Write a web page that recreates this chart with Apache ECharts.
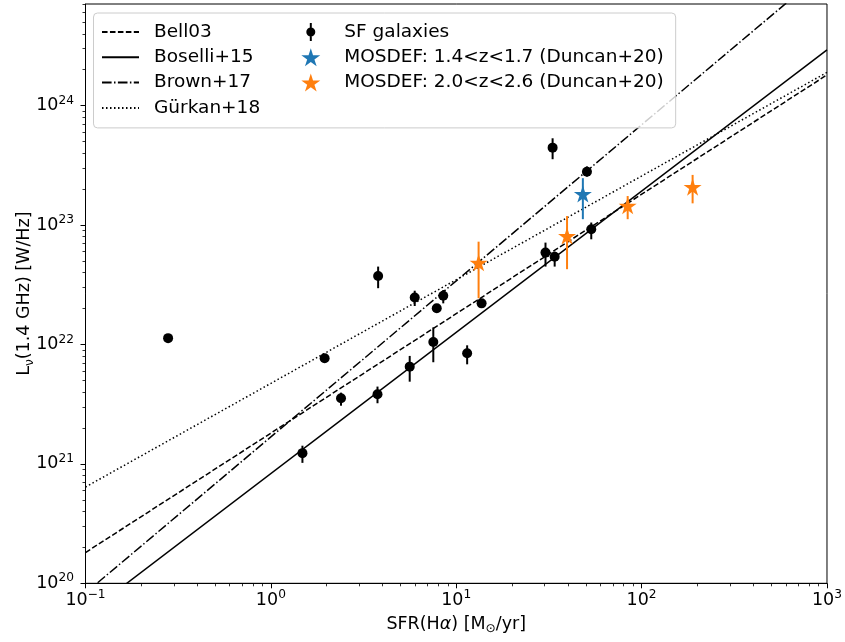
<!DOCTYPE html>
<html><head><meta charset="utf-8">
<script src="https://cdn.jsdelivr.net/npm/echarts@6/dist/echarts.min.js"></script>
<style>html,body{margin:0;padding:0;background:#fff}#c{width:845px;height:642px}</style>
</head><body><div id="c"></div>
<script>
// ---- relation lines (endpoint values read at SFR = 0.1 and 1000) ----
const lineSfr   = [0.1, 1000];
const bell03    = [1.81e20, 1.81e24];
const boselli15 = [5.45e19, 2.93e24];
const brown17   = [8.3e19, 1.40e25];
const gurkan18  = [6.4e20, 1.9e24];

// ---- SF galaxies ----
const sfX  = [0.279, 1.48, 1.95, 2.39, 3.76, 3.79, 5.61, 5.97, 7.52, 7.85, 8.51, 11.45, 13.7, 30.3, 33.96, 33.1, 50.7, 53.5];
const sfY  = [1.13e22, 1.23e21, 7.66e21, 3.54e21, 3.83e21, 3.75e22, 6.52e21, 2.47e22, 1.05e22, 2.01e22, 2.56e22, 8.43e21, 2.21e22, 5.88e22, 5.43e22, 4.45e23, 2.80e23, 9.23e22];
const sfLo = [1.05e22, 1.02e21, 7.2e21, 3.07e21, 3.22e21, 2.96e22, 4.88e21, 2.10e22, 7.1e21, 1.9e22, 2.21e22, 6.82e21, 2.1e22, 4.49e22, 4.49e22, 3.56e23, 2.55e23, 7.6e22];
const sfHi = [1.21e22, 1.42e21, 8.1e21, 3.95e21, 4.44e21, 4.49e22, 8.02e21, 2.82e22, 1.39e22, 2.12e22, 2.86e22, 9.84e21, 2.32e22, 7.13e22, 5.99e22, 5.33e23, 3.1e23, 1.05e23];

// ---- MOSDEF 1.4<z<1.7 ----
const m1X  = [48.2];
const m1Y  = [1.82e23];
const m1Lo = [1.12e23];
const m1Hi = [2.47e23];

// ---- MOSDEF 2.0<z<2.6 ----
const m2X  = [13.2, 39.6, 84.1, 188.4];
const m2Y  = [4.84e22, 8.11e22, 1.45e23, 2.08e23];
const m2Lo = [2.44e22, 4.27e22, 1.12e23, 1.52e23];
const m2Hi = [7.26e22, 1.19e23, 1.75e23, 2.63e23];

// ---- axes ----
const xMin = 0.1, xMax = 1000;
const yMin = 1e20, yMax = 7.1e24;
const xMajorTicks = [0.1, 1, 10, 100, 1000];
const yMajorTicks = [1e20, 1e21, 1e22, 1e23, 1e24];
const xMinorTicks = [];
for (let e = -1; e < 3; e++) for (let k = 2; k <= 9; k++) xMinorTicks.push(k * Math.pow(10, e));
const yMinorTicks = [];
for (let e = 20; e <= 24; e++) for (let k = 2; k <= 9; k++) { const v = k * Math.pow(10, e); if (v <= yMax) yMinorTicks.push(v); }

const names = {
  bell: 'Bell03', bos: 'Boselli+15', brown: 'Brown+17', gur: 'Gürkan+18',
  sf: 'SF galaxies', m1: 'MOSDEF: 1.4<z<1.7 (Duncan+20)', m2: 'MOSDEF: 2.0<z<2.6 (Duncan+20)'
};
const lineNames = [names.bell, names.bos, names.brown, names.gur];

const FONT = 'DejaVu Sans';
const FS = 17.5, FSUP = 12.2, FLEG = 18.5;
const BLUE = '#1f77b4', ORANGE = '#ff7f0e';
const STAR = 'path://M0,-10 L2.245,-3.09 L9.511,-3.09 L3.633,1.18 L5.878,8.09 L0,3.82 L-5.878,8.09 L-3.633,1.18 L-9.511,-3.09 L-2.245,-3.09 Z';
const SFICON = 'path://M-1.1,-10 L1.1,-10 L1.1,10 L-1.1,10 Z M0,-5 A5,5 0 1,1 0,5 A5,5 0 1,1 0,-5 Z';

function pairs(xs, ys) { return xs.map((x, i) => [x, ys[i]]); }
function relLine(name, ys, dash) {
  return { type: 'line', name, data: pairs(lineSfr, ys), symbol: 'none', z: 2, silent: true,
    lineStyle: { color: '#000', width: 1.5, type: dash, cap: 'butt' }, itemStyle: { color: 'rgba(0,0,0,0)' } };
}
function errSeries(xs, los, his, color) {
  return { type: 'custom', silent: true, z: 3, data: xs.map((x, i) => [x, los[i], his[i]]), encode: { x: 0, y: [1, 2] },
    renderItem: (params, api) => {
      const a = api.coord([api.value(0), api.value(1)]);
      const b = api.coord([api.value(0), api.value(2)]);
      return { type: 'line', shape: { x1: a[0], y1: a[1], x2: b[0], y2: b[1] }, style: { stroke: color, lineWidth: 2 } };
    } };
}
function expLabel(v) {
  const e = Math.round(Math.log10(v));
  return '{b|10}{s|' + (e < 0 ? '\u2212' + (-e) : e) + '}';
}
const tickRich = {
  b: { fontFamily: FONT, fontSize: FS, color: '#000', lineHeight: 22 },
  s: { fontFamily: FONT, fontSize: FSUP, color: '#000', lineHeight: 11, verticalAlign: 'top' }
};
const nameRich = {
  n: { fontFamily: FONT, fontSize: FS, color: '#000', lineHeight: 22 },
  i: { fontFamily: FONT, fontSize: FS, color: '#000', lineHeight: 22, fontStyle: 'italic' },
  sub: { fontFamily: FONT, fontSize: FSUP, color: '#000', lineHeight: 13, verticalAlign: 'bottom' }
};

const chart = echarts.init(document.getElementById('c'), null, { renderer: 'canvas' });
chart.setOption({
  animation: false,
  backgroundColor: '#fff',
  grid: { left: 85.5, right: 16, top: 4, bottom: 58.7, show: true, borderColor: '#000', borderWidth: 1, backgroundColor: 'transparent' },
  xAxis: [
    { type: 'log', logBase: 10, min: xMin, max: xMax, position: 'bottom',
      axisLine: { show: true, lineStyle: { color: '#000', width: 1 } },
      axisTick: { show: true, length: 5, lineStyle: { color: '#000', width: 1 }, customValues: xMajorTicks },
      axisLabel: { customValues: xMajorTicks, formatter: expLabel, margin: 6, fontFamily: FONT, fontSize: FS, color: '#000', rich: tickRich },
      splitLine: { show: false }, minorTick: { show: false },
      name: '{n|SFR(H}{i|\u03b1}{n|) [M}{sub|\u2299}{n|/yr]}', nameLocation: 'middle', nameGap: 30, nameMoveOverlap: false,
      nameTextStyle: { fontFamily: FONT, fontSize: FS, color: '#000', rich: nameRich } },
    { type: 'log', logBase: 10, min: xMin, max: xMax, position: 'bottom',
      axisLine: { show: false },
      axisTick: { show: true, length: 3, lineStyle: { color: '#000', width: 0.8 }, customValues: xMinorTicks },
      axisLabel: { show: false }, splitLine: { show: false } }
  ],
  yAxis: [
    { type: 'log', logBase: 10, min: yMin, max: yMax, position: 'left',
      axisLine: { show: true, lineStyle: { color: '#000', width: 1 } },
      axisTick: { show: true, length: 5, lineStyle: { color: '#000', width: 1 }, customValues: yMajorTicks },
      axisLabel: { customValues: yMajorTicks, formatter: expLabel, margin: 11.5, fontFamily: FONT, fontSize: FS, color: '#000', rich: tickRich },
      splitLine: { show: false }, minorTick: { show: false },
      name: '{n|L}{sub|\u03bd}{n|(1.4 GHz) [W/Hz]}', nameLocation: 'middle', nameGap: 50, nameMoveOverlap: false,
      nameTextStyle: { fontFamily: FONT, fontSize: FS, color: '#000', rich: nameRich } },
    { type: 'log', logBase: 10, min: yMin, max: yMax, position: 'left',
      axisLine: { show: false },
      axisTick: { show: true, length: 3, lineStyle: { color: '#000', width: 0.8 }, customValues: yMinorTicks },
      axisLabel: { show: false }, splitLine: { show: false } }
  ],
  legend: {
    orient: 'vertical', left: 93.5, top: 13, height: 105, itemGap: 6.3, itemWidth: 37, itemHeight: 18,
    padding: [9.5, 12, 10.5, 7.5], backgroundColor: 'rgba(255,255,255,0.8)', borderColor: '#cccccc', borderWidth: 1, borderRadius: 4,
    selectedMode: false, z: 10,
    data: [
      { name: names.bell }, { name: names.bos }, { name: names.brown }, { name: names.gur },
      { name: names.sf, icon: SFICON }, { name: names.m1, icon: STAR }, { name: names.m2, icon: STAR }
    ],
    formatter: n => (lineNames.indexOf(n) >= 0 ? '{a|' + n + '}' : '{b|' + n + '}'),
    textStyle: { fontFamily: FONT, fontSize: FLEG, color: '#000',
      rich: {
        a: { fontFamily: FONT, fontSize: FLEG, color: '#000', lineHeight: 19, width: 131, padding: [0, 0, 0, 10] },
        b: { fontFamily: FONT, fontSize: FLEG, color: '#000', lineHeight: 19, padding: [0, 0, 0, 10] }
      } }
  },
  series: [
    relLine(names.bell, bell03, [5.55, 2.4]),
    relLine(names.bos, boselli15, 'solid'),
    relLine(names.brown, brown17, [9.6, 2.4, 1.5, 2.4]),
    relLine(names.gur, gurkan18, [1.5, 2.5]),
    errSeries(sfX, sfLo, sfHi, '#000'),
    errSeries(m1X, m1Lo, m1Hi, BLUE),
    errSeries(m2X, m2Lo, m2Hi, ORANGE),
    { type: 'scatter', name: names.sf, data: pairs(sfX, sfY), symbol: 'circle', symbolSize: 10, z: 4, silent: true,
      itemStyle: { color: '#000', opacity: 1 } },
    { type: 'scatter', name: names.m1, data: pairs(m1X, m1Y), symbol: STAR, symbolSize: 18, symbolKeepAspect: true, z: 5, silent: true,
      itemStyle: { color: BLUE, opacity: 1 } },
    { type: 'scatter', name: names.m2, data: pairs(m2X, m2Y), symbol: STAR, symbolSize: 18, symbolKeepAspect: true, z: 5, silent: true,
      itemStyle: { color: ORANGE, opacity: 1 } }
  ]
});
</script></body></html>
